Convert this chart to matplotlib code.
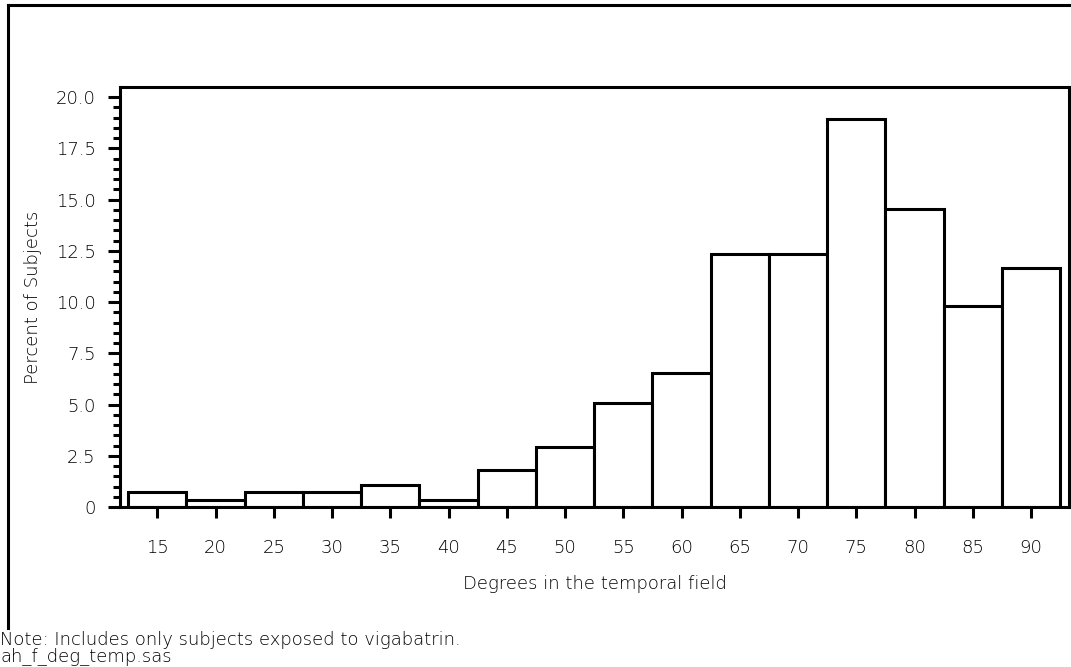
import matplotlib
matplotlib.use("Agg")
import matplotlib.pyplot as plt
from matplotlib.ticker import MultipleLocator, FixedLocator
from matplotlib.lines import Line2D

# Data
bin_mids = [15, 20, 25, 30, 35, 40, 45, 50, 55, 60, 65, 70, 75, 80, 85, 90]
percents = [0.73, 0.36, 0.73, 0.73, 1.09, 0.36, 1.82, 2.91, 5.09, 6.55,
            12.36, 12.36, 18.91, 14.55, 9.82, 11.64]
x_ticks = [15, 20, 25, 30, 35, 40, 45, 50, 55, 60, 65, 70, 75, 80, 85, 90]
y_ticks = [0, 2.5, 5.0, 7.5, 10.0, 12.5, 15.0, 17.5, 20.0]
y_tick_labels = ["0", "2.5", "5.0", "7.5", "10.0", "12.5", "15.0", "17.5", "20.0"]
bin_width = 5

plt.rcParams['font.family'] = ['DejaVu Sans']
plt.rcParams['font.weight'] = 'light'
plt.rcParams['axes.labelweight'] = 'light'
FS = 13

fig = plt.figure(figsize=(10.71, 6.67), dpi=100)
ax = fig.add_axes([120/1071, (667-507)/667, (1069-120)/1071, (507-87)/667])

ax.bar(bin_mids, percents, width=bin_width, color='white', edgecolor='black',
       linewidth=2.2, align='center', zorder=2)

ax.set_xlim(11.8, 93.25)
ax.set_ylim(0, 20.49)

ax.xaxis.set_major_locator(FixedLocator(x_ticks))
ax.set_xticklabels([str(v) for v in x_ticks])
ax.yaxis.set_major_locator(FixedLocator(y_ticks))
ax.set_yticklabels(y_tick_labels)
ax.yaxis.set_minor_locator(MultipleLocator(0.5))

ax.tick_params(axis='x', which='major', direction='out', length=8, width=2.2,
               pad=15, labelsize=FS)
ax.tick_params(axis='y', which='major', direction='out', length=8.5, width=2.2,
               pad=9, labelsize=FS)
ax.tick_params(axis='y', which='minor', direction='out', length=5, width=2.2)

for s in ax.spines.values():
    s.set_linewidth(2.2)

ax.set_xlabel("Degrees in the temporal field", fontsize=FS, labelpad=13,
              fontweight='light')
ax.set_ylabel("Percent of Subjects", fontsize=FS, labelpad=10, fontweight='light')

# outer border (top and left)
fig.add_artist(Line2D([8/1071, 1.0], [1-5/667, 1-5/667], transform=fig.transFigure,
                      color='black', linewidth=2.2))
fig.add_artist(Line2D([8/1071, 8/1071], [1-5/667, 1-628/667], transform=fig.transFigure,
                      color='black', linewidth=2.2))

fig.text(0.0, 1-645/667, "Note: Includes only subjects exposed to vigabatrin.",
         fontsize=FS, ha='left', va='baseline')
fig.text(0.0, 1-662/667, "ah_f_deg_temp.sas", fontsize=FS, ha='left', va='baseline')

fig.savefig("out.png", dpi=100)
